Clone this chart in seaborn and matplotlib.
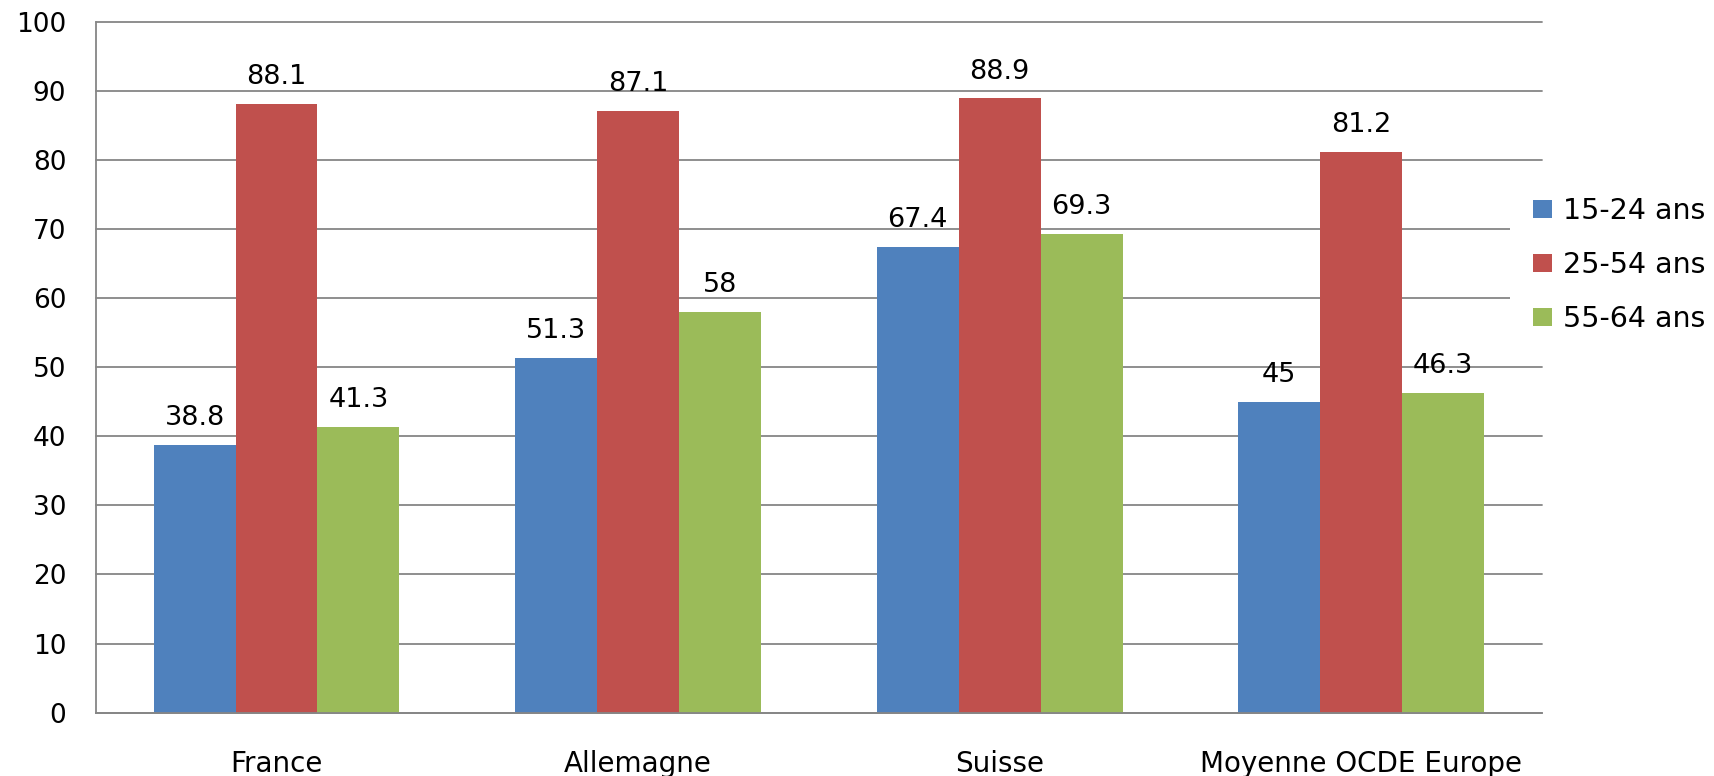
import matplotlib
matplotlib.use("Agg")
import matplotlib.pyplot as plt
import seaborn as sns
import pandas as pd
import numpy as np

# Taux d'emploi par tranche d'âge
pays = ["France", "Allemagne", "Suisse", "Moyenne OCDE Europe"]
tranches = ["15-24 ans", "25-54 ans", "55-64 ans"]
v_15_24 = [38.8, 51.3, 67.4, 45]
v_25_54 = [88.1, 87.1, 88.9, 81.2]
v_55_64 = [41.3, 58, 69.3, 46.3]
couleurs = ["#4F81BD", "#C0504D", "#9BBB59"]
y_ticks = list(range(0, 101, 10))

rows = []
for t, vals in zip(tranches, [v_15_24, v_25_54, v_55_64]):
    for p, v in zip(pays, vals):
        rows.append({"pays": p, "tranche": t, "valeur": v})
df = pd.DataFrame(rows)

sns.set_style("white")
plt.rcParams["font.family"] = ["DejaVu Sans"]
plt.rcParams["font.size"] = 19
plt.rcParams["text.color"] = "black"

grid_col = "#868686"
fig = plt.figure(figsize=(17.15, 7.76), dpi=100)
ax = fig.add_axes([0.0558, 0.0816, 0.8433, 0.8904])

sns.barplot(data=df, x="pays", y="valeur", hue="tranche", order=pays,
            hue_order=tranches, palette=couleurs, width=0.68, saturation=1,
            edgecolor="none", linewidth=0, ax=ax)

# Étiquettes de valeur au-dessus des barres
for cont, vals in zip(ax.containers, [v_15_24, v_25_54, v_55_64]):
    ax.bar_label(cont, labels=[f"{v:g}" for v in vals], padding=10,
                 fontsize=19.5, color="black")

ax.set_ylim(0, 100)
ax.set_xlim(-0.5, len(pays) - 0.5)
ax.set_yticks(y_ticks)
ax.set_xlabel("")
ax.set_ylabel("")
ax.yaxis.grid(True, color=grid_col, linewidth=1.3)
for gl in ax.get_ygridlines():
    gl.set_clip_on(False)
ax.set_axisbelow(True)

for s in ["top", "right"]:
    ax.spines[s].set_visible(False)
for s in ["left", "bottom"]:
    ax.spines[s].set_color(grid_col)
    ax.spines[s].set_linewidth(1.3)

ax.tick_params(axis="y", length=7.2, width=1.3, color=grid_col, pad=14,
               labelsize=19, labelcolor="black")
ax.tick_params(axis="x", which="major", length=0, pad=27, labelsize=20,
               labelcolor="black")
ax.set_xticks(np.arange(-0.5, len(pays), 1.0), minor=True)
ax.tick_params(axis="x", which="minor", length=7.2, width=1.3, color=grid_col)

handles, labels = ax.get_legend_handles_labels()
leg = ax.legend(handles, labels, loc="center left",
                bbox_to_anchor=(1510 / 1715, 1 - 265 / 776),
                bbox_transform=fig.transFigure, frameon=True,
                facecolor="white", edgecolor="none", framealpha=1,
                fontsize=20.5, handlelength=0.67, handleheight=0.6,
                handletextpad=0.4, labelspacing=0.9, borderpad=0.8,
                borderaxespad=0, fancybox=False)
for txt in leg.get_texts():
    txt.set_color("black")

fig.savefig("out.png", dpi=100, facecolor="white")
